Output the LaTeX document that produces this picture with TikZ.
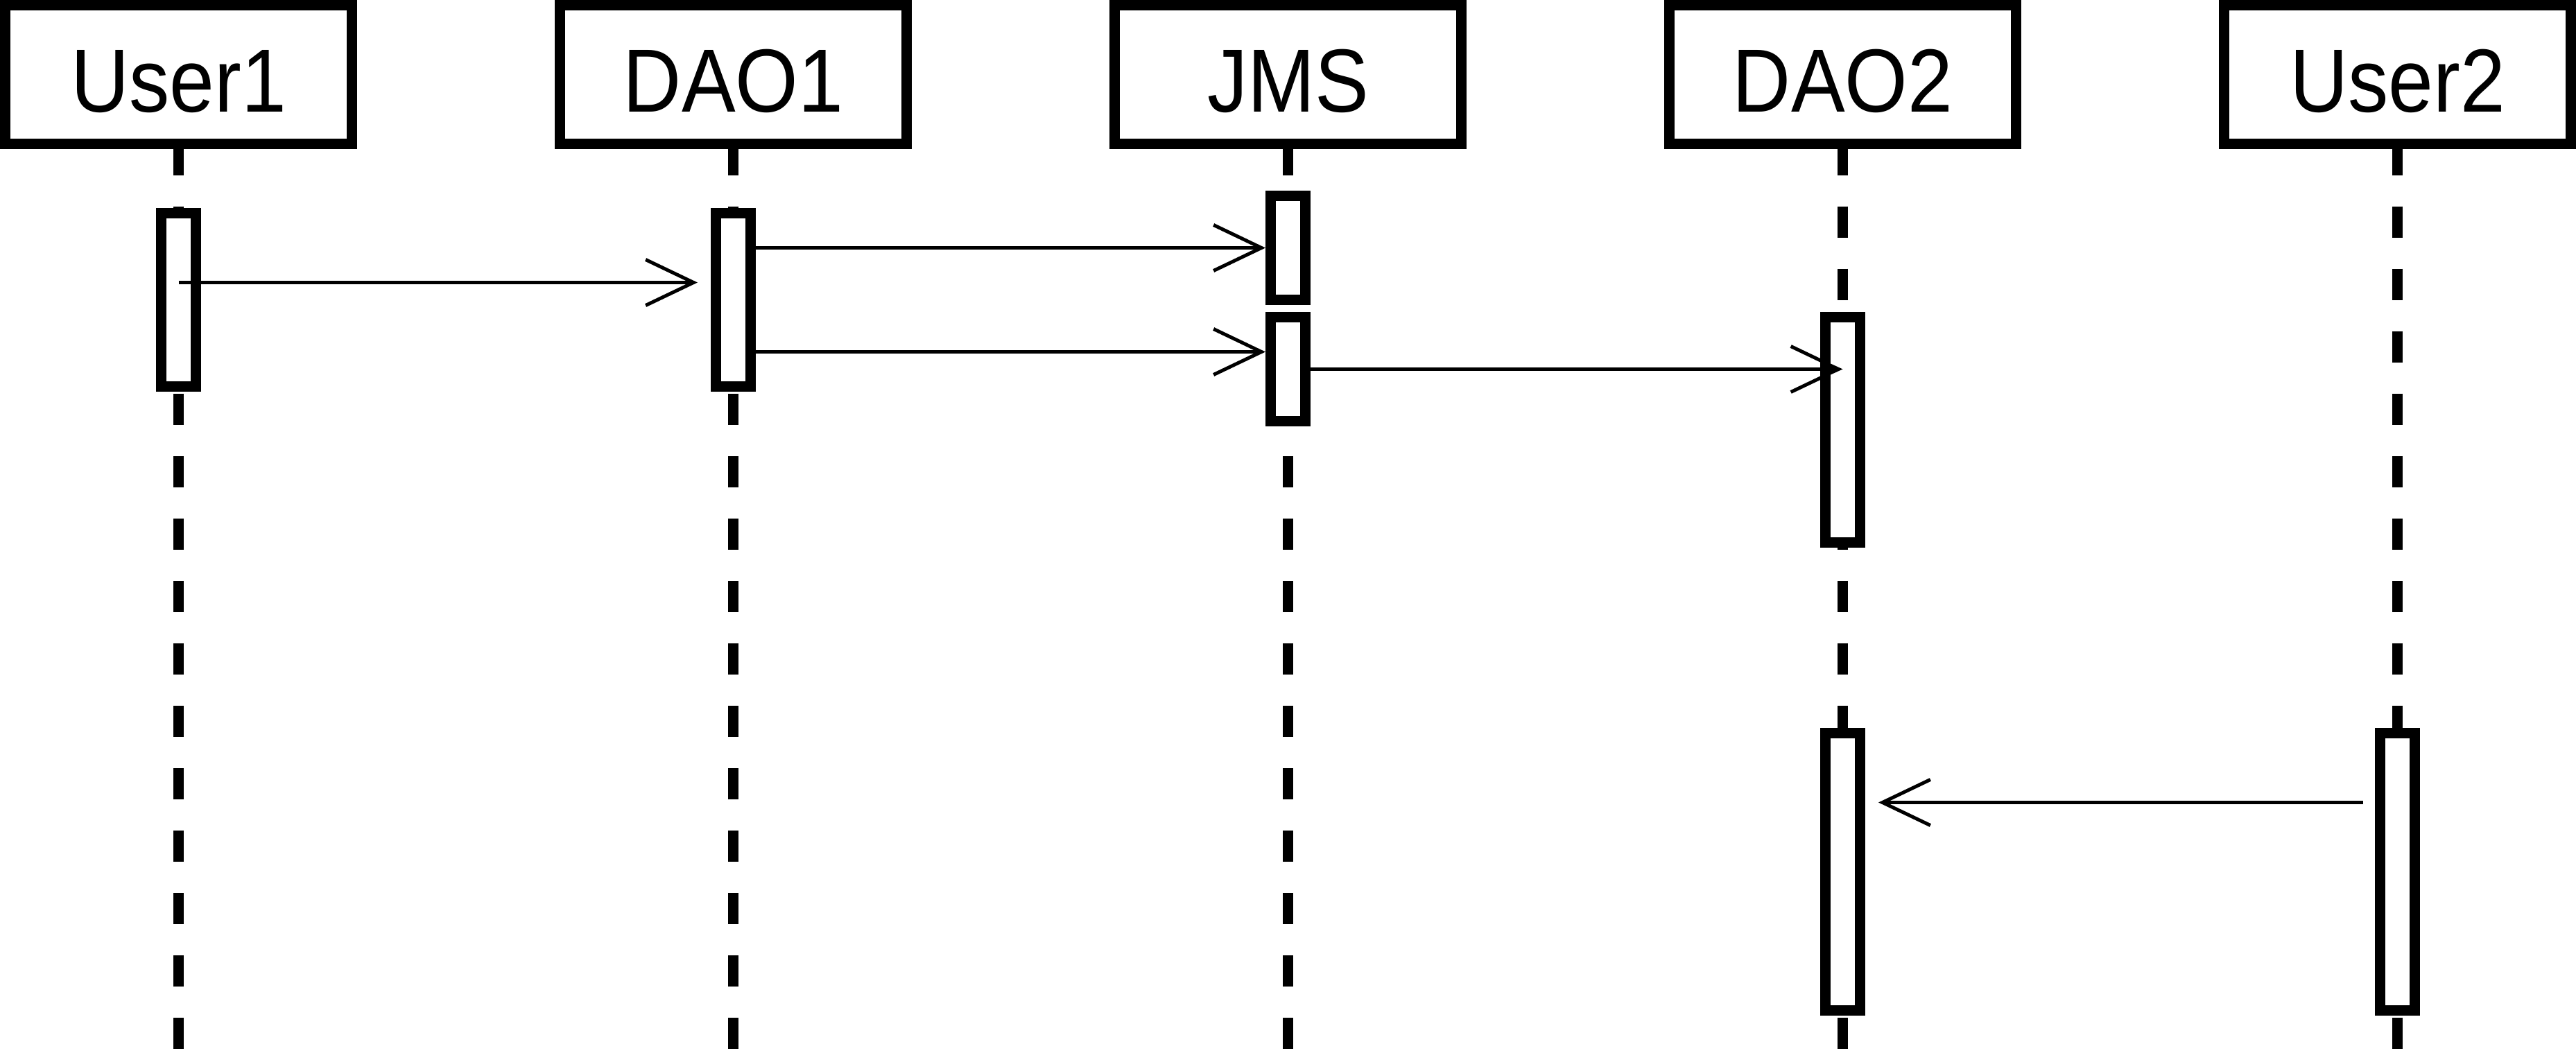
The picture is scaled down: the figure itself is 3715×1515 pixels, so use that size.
\documentclass[tikz,border=0pt]{standalone}
\usepackage{fontspec}
\setmainfont[FakeStretch=0.9]{Liberation Sans}
\usetikzlibrary{arrows.meta}
\begin{document}
\begin{tikzpicture}[x=0.01cm,y=-0.01cm,
  actor/.style={draw, line width=0.15cm, rectangle, minimum width=5cm, minimum height=2cm,
    inner sep=0pt, outer sep=0pt, text height=1.07cm, text depth=0pt,
    font=\fontsize{36.8}{42}\selectfont},
  act/.style={draw, fill=white, line width=0.15cm, rectangle, minimum width=0.5cm, inner sep=0pt},
  life/.style={line width=0.15cm, dash pattern=on 0.45cm off 0.45cm},
  msg/.style={line width=0.05cm, -{Straight Barb[length=0.69cm,width=0.66cm]}}
]
\useasboundingbox (0,0) rectangle (3715,1515);

% participants
\node[actor] (user1) at (257.5,107.5) {User1};
\node[actor] (dao1)  at (1057.5,107.5) {DAO1};
\node[actor] (jms)   at (1857.5,107.5) {JMS};
\node[actor] (dao2)  at (2657.5,107.5) {DAO2};
\node[actor] (user2) at (3457.5,107.5) {User2};

% lifelines
\foreach \p in {user1,dao1,jms,dao2,user2}{
  \coordinate (\p end) at (\p.south |- 0,1515);
  \draw[life] (\p.south) -- (\p end);
}

% activations
\node[act, minimum height=2.5cm] (u1act)  at (257.5,432.5) {};
\node[act, minimum height=2.5cm] (d1act)  at (1057.5,432.5) {};
\node[act, minimum height=1.5cm] (jact1)  at (1857.5,357.5) {};
\node[act, minimum height=1.5cm] (jact2)  at (1857.5,532.5) {};

% message JMS -> DAO2 (partly hidden by the activation)
\coordinate (d2tip) at (2657.5,532.5);
\draw[msg] (jact2.east |- 0,532.5) -- (d2tip);

\node[act, minimum height=3.25cm] (d2act1) at (2657.5,620) {};
\node[act, minimum height=4cm]    (d2act2) at (2657.5,1257.5) {};
\node[act, minimum height=4cm]    (u2act)  at (3457.5,1257.5) {};
\fill (2640,524.5) -- (d2tip) -- (2640,540.5) -- cycle;

% messages
\draw[msg] (u1act.center |- 0,407.5) -- ([xshift=-0.19cm]d1act.west |- 0,407.5);
\draw[msg] (d1act.east |- 0,357.5) -- (jact1.west |- 0,357.5);
\draw[msg] (d1act.east |- 0,507.5) -- (jact2.west |- 0,507.5);
\draw[msg] ([xshift=-0.17cm]u2act.west |- 0,1157.5) -- ([xshift=0.19cm]d2act2.east |- 0,1157.5);
\end{tikzpicture}
\end{document}
